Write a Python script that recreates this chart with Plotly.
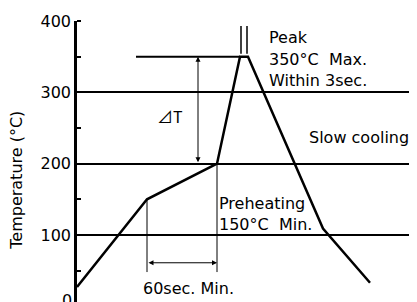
import plotly.graph_objects as go

# ---- data (time in arbitrary units, temperature in °C) ----
profile_time = [0, 70, 140, 163, 171, 246, 293]
profile_temp = [27, 150, 200, 350, 350, 109, 33]

peak_ref_time = [59, 163]
peak_ref_temp = [350, 350]

peak_bar_times = [164, 170]
peak_bar_temp = [354, 393]

dt_time = 121
dt_low, dt_high = 200, 350

pre_start_time, pre_end_time = 70, 140
pre_start_temp, pre_end_temp = 150, 200
pre_arrow_temp = 61
pre_line_bottom = 48

y_ticks = [0, 100, 200, 300, 400]

FONT = "DejaVu Sans, Noto Sans CJK JP, sans-serif"

fig = go.Figure()

fig.add_trace(go.Scatter(x=profile_time, y=profile_temp, mode="lines",
                         line=dict(color="black", width=2.5), showlegend=False))
fig.add_trace(go.Scatter(x=peak_ref_time, y=peak_ref_temp, mode="lines",
                         line=dict(color="black", width=2), showlegend=False))
for bt in peak_bar_times:
    fig.add_trace(go.Scatter(x=[bt, bt], y=peak_bar_temp, mode="lines",
                             line=dict(color="black", width=1.5), showlegend=False))
fig.add_trace(go.Scatter(x=[pre_start_time, pre_start_time], y=[pre_start_temp, pre_line_bottom],
                         mode="lines", line=dict(color="black", width=1), showlegend=False))
fig.add_trace(go.Scatter(x=[pre_end_time, pre_end_time], y=[pre_end_temp, pre_line_bottom],
                         mode="lines", line=dict(color="black", width=1), showlegend=False))

ann = []
# double arrows
ann.append(dict(x=dt_time, y=dt_high, ax=dt_time, ay=dt_low, xref="x", yref="y",
                axref="x", ayref="y", text="", showarrow=True, arrowside="end+start",
                arrowhead=2, arrowsize=1, arrowwidth=1, arrowcolor="black",
                standoff=0, startstandoff=0))
ann.append(dict(x=pre_end_time, y=pre_arrow_temp, ax=pre_start_time, ay=pre_arrow_temp,
                xref="x", yref="y", axref="x", ayref="y", text="", showarrow=True,
                arrowside="end+start", arrowhead=2, arrowsize=1, arrowwidth=1,
                arrowcolor="black", standoff=0, startstandoff=0))

def label(text, x, y, xanchor="left", family=FONT):
    ann.append(dict(x=x, y=y, xref="x", yref="y", text=text, showarrow=False,
                    xanchor=xanchor, yanchor="middle",
                    font=dict(family=family, size=16, color="black")))

label("⊿T", 78, 267, family="Noto Sans CJK JP, DejaVu Sans, sans-serif")
label("Peak", 190, 377)
label("350°C\u00a0\u00a0Max.", 190, 346)
label("Within 3sec.", 190, 317)
label("Slow cooling", 230, 237)
label("Preheating", 140, 144)
label("150°C\u00a0\u00a0Min.", 140, 115)
label("60sec. Min.", 111, 25, xanchor="center")

# y title
ann.append(dict(x=0, y=176, xref="paper", yref="y", xshift=-60, text="Temperature (°C)",
                textangle=-90, showarrow=False, xanchor="center", yanchor="middle",
                font=dict(family=FONT, size=16, color="black")))
# partially visible zero tick label (its value lies just below the cropped bottom edge)
ann.append(dict(x=0, y=0, xref="paper", yref="paper", xshift=-3, yshift=2,
                text=str(y_ticks[0]), showarrow=False, xanchor="right", yanchor="middle",
                font=dict(family=FONT, size=16, color="black")))

fig.update_layout(
    width=409, height=294,
    margin=dict(l=69, r=0, t=13, b=0),
    paper_bgcolor="white", plot_bgcolor="white",
    annotations=ann,
    xaxis=dict(range=[0, 340], visible=False, fixedrange=True),
    yaxis=dict(range=[6, 400], tickvals=y_ticks, ticktext=[str(v) for v in y_ticks],
               showgrid=True, gridcolor="black", gridwidth=2, zeroline=False,
               showline=True, linecolor="black", linewidth=2.5, ticks="",
               tickfont=dict(family=FONT, size=16, color="black"),
               minor=dict(ticks="inside", ticklen=4, tickwidth=2, tickcolor="black",
                          dtick=50, tick0=0, showgrid=False),
               fixedrange=True),
)

fig.write_html("out.html")
